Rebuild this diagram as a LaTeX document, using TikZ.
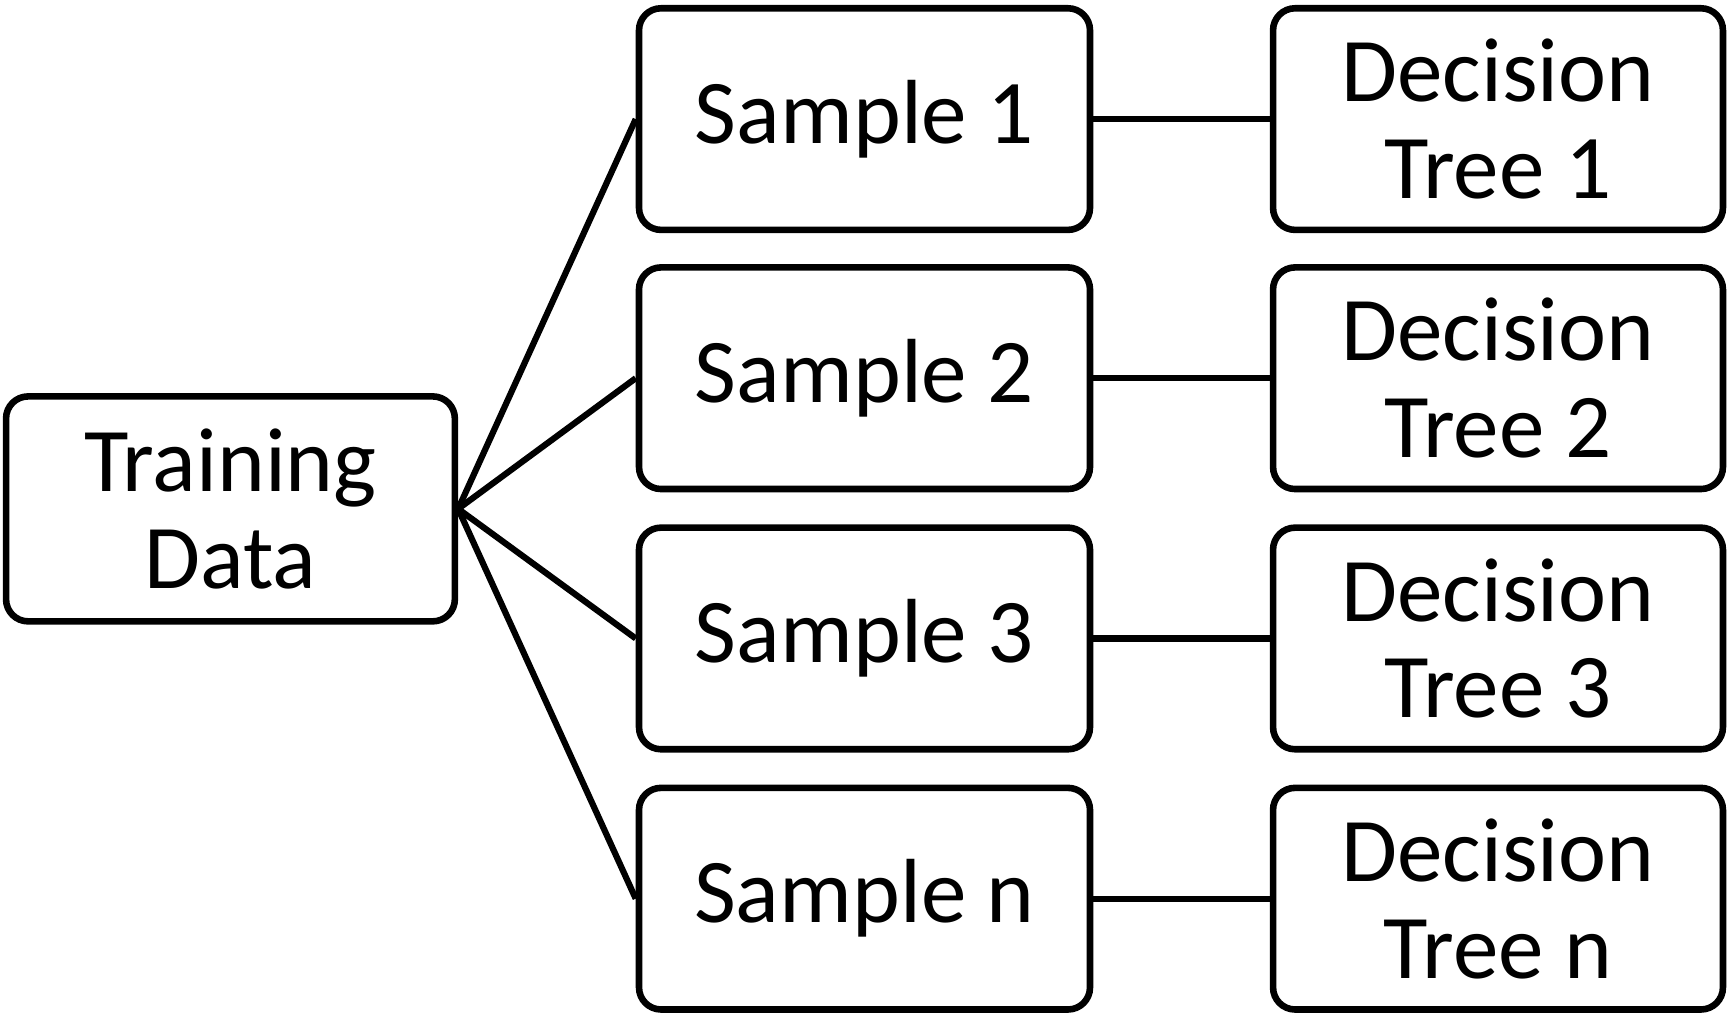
\documentclass[tikz,border=0pt]{standalone}
\usepackage{fontspec}
\setmainfont{Carlito}
\usepackage{tikz}
\usetikzlibrary{positioning}
\tikzset{
  rfbox/.style={
    rectangle, rounded corners=0.4cm, draw=black, fill=white, line width=3.4pt,
    align=center, inner sep=2pt, font=\fontsize{47}{50}\selectfont
  },
  rfdata/.style={rfbox, minimum width=8.14cm, minimum height=4.08cm},
  rfsample/.style={rfbox, minimum width=8.18cm, minimum height=4.02cm},
  rftree/.style={rfbox, minimum width=8.16cm, minimum height=4.02cm},
  rfedge/.style={line width=3.2pt}
}
\begin{document}
\begin{tikzpicture}
  \useasboundingbox (0,0) rectangle (31.36,18.44);
  \node[rfdata] (train) at (4.18,9.21) {Training\\Data};
  \node[rfsample] (s1) at (15.68,16.28) {Sample 1};
  \node[rfsample] (s2) at (15.68,11.58) {Sample 2};
  \node[rfsample] (s3) at (15.68,6.86) {Sample 3};
  \node[rfsample] (sn) at (15.68,2.14) {Sample n};
  \node[rftree] (t1) at (27.17,16.28) {Decision\\Tree 1};
  \node[rftree] (t2) at (27.17,11.58) {Decision\\Tree 2};
  \node[rftree] (t3) at (27.17,6.86) {Decision\\Tree 3};
  \node[rftree] (tn) at (27.17,2.14) {Decision\\Tree n};
  \draw[rfedge] (train.east) -- (s1.west);
  \draw[rfedge] (train.east) -- (s2.west);
  \draw[rfedge] (train.east) -- (s3.west);
  \draw[rfedge] (train.east) -- (sn.west);
  \draw[rfedge] (s1.east) -- (t1.west);
  \draw[rfedge] (s2.east) -- (t2.west);
  \draw[rfedge] (s3.east) -- (t3.west);
  \draw[rfedge] (sn.east) -- (tn.west);
\end{tikzpicture}
\end{document}
